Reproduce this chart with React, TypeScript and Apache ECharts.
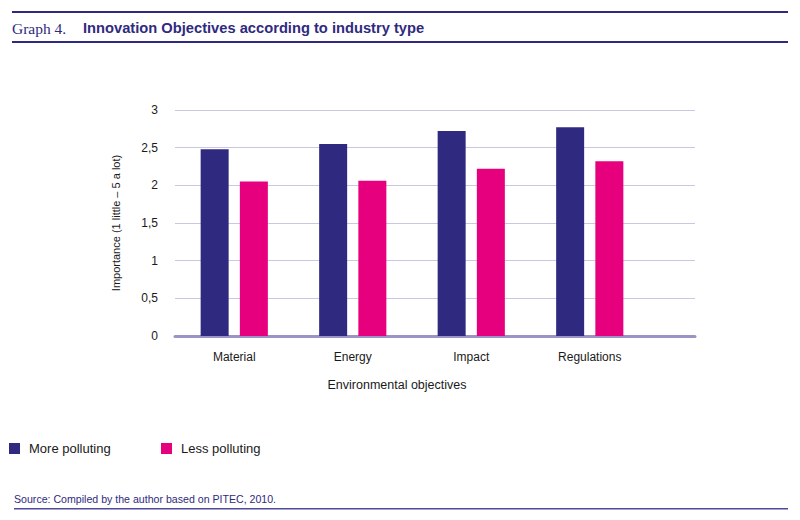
import React, { useEffect, useRef } from "react";
import * as echarts from "echarts";

const categories = ["Material", "Energy", "Impact", "Regulations"];
const morePolluting = [2.48, 2.55, 2.72, 2.77];
const lessPolluting = [2.05, 2.06, 2.22, 2.32];
const seriesNames = ["More polluting", "Less polluting"];

const NAVY = "#2f2a80";
const PINK = "#e6007e";
const SANS = "'Liberation Sans', Arial, sans-serif";

export default function App() {
  const ref = useRef<HTMLDivElement>(null);
  useEffect(() => {
    if (!ref.current) return;
    const chart = echarts.init(ref.current, undefined, { renderer: "svg" });
    chart.setOption({
      animation: false,
      backgroundColor: "#ffffff",
      textStyle: { fontFamily: SANS },
      grid: [
        { left: 175, right: 105, top: 110, bottom: 184 },
        { left: 175, right: 151, top: 110, bottom: 184 },
      ],
      xAxis: [
        {
          gridIndex: 0,
          type: "category",
          data: categories,
          axisLine: { show: true, lineStyle: { color: "#9b93c6", width: 3 } },
          axisTick: { show: false },
          axisLabel: { show: false },
          splitLine: { show: false },
        },
        {
          gridIndex: 1,
          type: "category",
          data: categories,
          axisLine: { show: false },
          axisTick: { show: false },
          axisLabel: { color: "#1a1a1a", fontSize: 12, margin: 15, fontFamily: SANS },
        },
      ],
      yAxis: [
        {
          gridIndex: 0,
          type: "value",
          min: 0,
          max: 3,
          interval: 0.5,
          axisLine: { show: false },
          axisTick: { show: false },
          axisLabel: {
            color: "#1a1a1a",
            fontSize: 12,
            margin: 17,
            fontFamily: SANS,
            formatter: (v: number) => String(v).replace(".", ","),
          },
          splitLine: { lineStyle: { color: "#cbc6e2", width: 1 } },
          name: "Importance (1 little – 5 a lot)",
          nameLocation: "middle",
          nameRotate: 90,
          nameGap: 54,
          nameTextStyle: { color: "#1a1a1a", fontSize: 11, fontFamily: SANS },
        },
        {
          gridIndex: 1,
          type: "value",
          min: 0,
          max: 3,
          interval: 0.5,
          show: false,
          splitLine: { show: false },
        },
      ],
      legend: [
        {
          data: [seriesNames[0]],
          left: 9,
          top: 442,
          padding: 0,
          icon: "rect",
          itemWidth: 11,
          itemHeight: 11,
          textStyle: { fontSize: 13, color: "#1a1a1a", fontFamily: SANS, padding: [0, 0, 0, 4] },
        },
        {
          data: [seriesNames[1]],
          left: 161,
          top: 442,
          padding: 0,
          icon: "rect",
          itemWidth: 11,
          itemHeight: 11,
          textStyle: { fontSize: 13, color: "#1a1a1a", fontFamily: SANS, padding: [0, 0, 0, 4] },
        },
      ],
      series: [
        {
          name: seriesNames[0],
          type: "bar",
          xAxisIndex: 1,
          yAxisIndex: 1,
          data: morePolluting,
          barWidth: 28,
          barGap: "40%",
          itemStyle: { color: NAVY },
        },
        {
          name: seriesNames[1],
          type: "bar",
          xAxisIndex: 1,
          yAxisIndex: 1,
          data: lessPolluting,
          barWidth: 28,
          barGap: "40%",
          itemStyle: { color: PINK },
        },
      ],
      graphic: [
        { type: "rect", shape: { x: 12, y: 11, width: 776, height: 2 }, style: { fill: NAVY } },
        {
          type: "text",
          x: 12,
          y: 28,
          style: {
            text: "Graph 4.",
            font: "15.5px 'Liberation Serif', 'DejaVu Serif', serif",
            fill: NAVY,
            textVerticalAlign: "middle",
          },
        },
        {
          type: "text",
          x: 83,
          y: 28,
          style: {
            text: "Innovation Objectives according to industry type",
            font: "bold 14.7px 'Liberation Sans', Arial, sans-serif",
            fill: NAVY,
            textVerticalAlign: "middle",
          },
        },
        { type: "rect", shape: { x: 12, y: 41, width: 776, height: 2 }, style: { fill: NAVY } },
        {
          type: "text",
          x: 397,
          y: 385,
          style: {
            text: "Environmental objectives",
            font: "12.5px 'Liberation Sans', Arial, sans-serif",
            fill: "#1a1a1a",
            textAlign: "center",
            textVerticalAlign: "middle",
          },
        },
        {
          type: "text",
          x: 14,
          y: 499,
          style: {
            text: "Source: Compiled by the author based on PITEC, 2010.",
            font: "10.6px 'Liberation Sans', Arial, sans-serif",
            fill: NAVY,
            textVerticalAlign: "middle",
          },
        },
        { type: "rect", shape: { x: 14, y: 508, width: 774, height: 1.5 }, style: { fill: "#4f4a99" } },
      ],
    });
    return () => chart.dispose();
  }, []);
  return (
    <div
      ref={ref}
      style={{ position: "absolute", left: 0, top: 0, width: 800, height: 520 }}
    />
  );
}
